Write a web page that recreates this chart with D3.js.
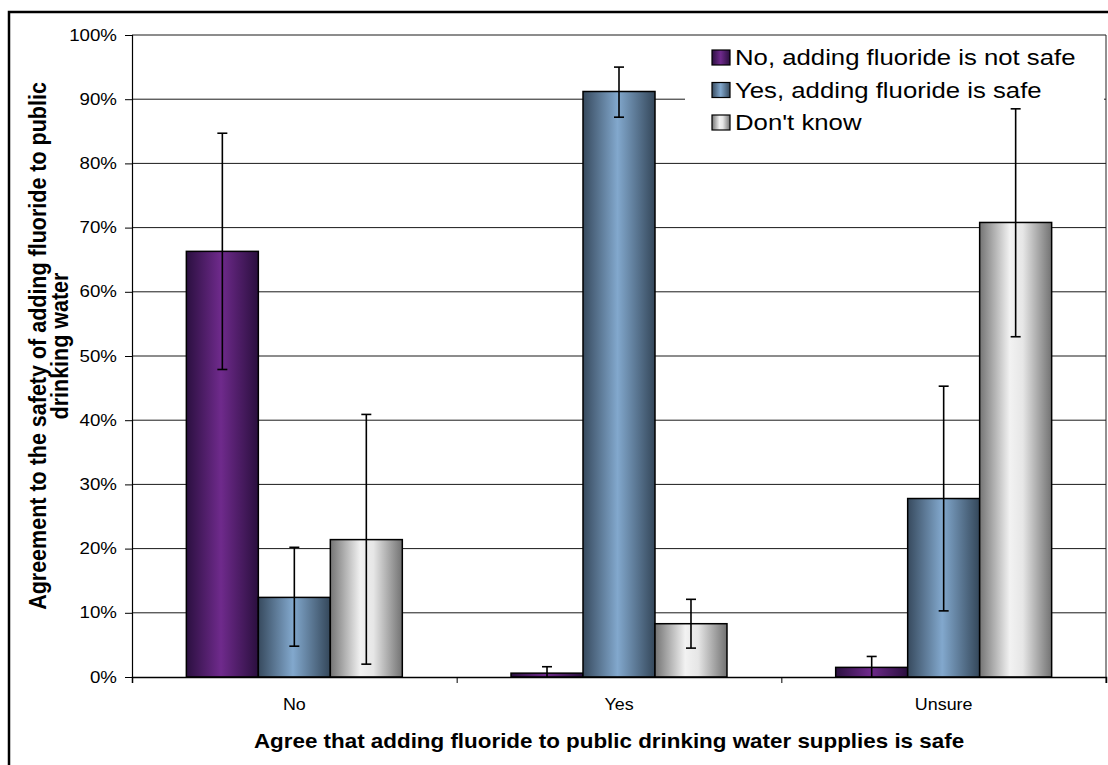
<!DOCTYPE html>
<html>
<head>
<meta charset="utf-8">
<script src="https://cdn.jsdelivr.net/npm/d3@7"></script>
<style>
  body { margin: 0; background: #fff; }
  text { font-family: Arial, "Liberation Sans", sans-serif; fill: #000; }
</style>
</head>
<body>
<div id="chart"></div>
<script>
// data (percent)
var categories = ["No", "Yes", "Unsure"];
var seriesNames = ["No, adding fluoride is not safe", "Yes, adding fluoride is safe", "Don't know"];
var notSafe = [66.3, 0.6, 1.5];
var safe = [12.4, 91.2, 27.8];
var dontKnow = [21.4, 8.3, 70.8];
var notSafeLow = [47.9, 0, 0];
var notSafeHigh = [84.7, 1.6, 3.2];
var safeLow = [4.8, 87.2, 10.3];
var safeHigh = [20.2, 95.0, 45.3];
var dontKnowLow = [2.0, 4.5, 53.0];
var dontKnowHigh = [40.9, 12.1, 88.5];
var yTicks = [0, 10, 20, 30, 40, 50, 60, 70, 80, 90, 100];

var width = 1108, height = 765;
var margin = {left: 132, top: 35, right: 2, bottom: 88};

var svg = d3.select("#chart").append("svg")
  .attr("width", width)
  .attr("height", height);

var defs = svg.append("defs");
var grads = [
  {id: "g0", stops: [["0%", "#2b1040"], ["48%", "#6f2a8c"], ["100%", "#2a0f3e"]]},
  {id: "g1", stops: [["0%", "#374a5e"], ["48%", "#82a8cd"], ["100%", "#34475a"]]},
  {id: "g2", stops: [["0%", "#747474"], ["42%", "#f2f2f2"], ["60%", "#e6e6e6"], ["100%", "#727272"]]}
];
grads.forEach(function (g) {
  var lg = defs.append("linearGradient").attr("id", g.id)
    .attr("x1", "0").attr("x2", "1").attr("y1", "0").attr("y2", "0");
  g.stops.forEach(function (s) {
    lg.append("stop").attr("offset", s[0]).attr("stop-color", s[1]);
  });
});

// outer chart border
svg.append("rect")
  .attr("x", 9).attr("y", 12)
  .attr("width", width + 10).attr("height", height + 10)
  .attr("fill", "none").attr("stroke", "#000").attr("stroke-width", 2.5);

var x = d3.scaleBand()
  .domain(categories)
  .range([margin.left, width - margin.right]);

var xs = d3.scaleBand()
  .domain(seriesNames)
  .range([0, x.bandwidth()])
  .paddingOuter(0.755);

var y = d3.scaleLinear()
  .domain([0, 100])
  .range([height - margin.bottom, margin.top]);

var rows = categories.map(function (c, i) {
  return [
    {cat: c, s: 0, v: notSafe[i], lo: notSafeLow[i], hi: notSafeHigh[i]},
    {cat: c, s: 1, v: safe[i], lo: safeLow[i], hi: safeHigh[i]},
    {cat: c, s: 2, v: dontKnow[i], lo: dontKnowLow[i], hi: dontKnowHigh[i]}
  ];
});
var flat = [].concat.apply([], rows);

// gridlines
svg.append("g").selectAll("line")
  .data(yTicks.slice(1))
  .enter().append("line")
  .attr("x1", margin.left).attr("x2", width - margin.right)
  .attr("y1", function (d) { return y(d); })
  .attr("y2", function (d) { return y(d); })
  .attr("stroke", "#1a1a1a").attr("stroke-width", 1);

// right edge of plot area
svg.append("line")
  .attr("x1", width - margin.right).attr("x2", width - margin.right)
  .attr("y1", y(100)).attr("y2", y(0) + 6)
  .attr("stroke", "#222");

// legend background (hides gridline under it)
var legend = svg.append("g").attr("transform", "translate(685,37)");
legend.append("rect")
  .attr("x", 0).attr("y", 0).attr("width", 419).attr("height", 108)
  .attr("fill", "#fff");

// bars
svg.append("g").selectAll("rect")
  .data(flat)
  .enter().append("rect")
  .attr("x", function (d) { return x(d.cat) + xs(seriesNames[d.s]); })
  .attr("y", function (d) { return y(d.v); })
  .attr("width", xs.bandwidth())
  .attr("height", function (d) { return y(0) - y(d.v); })
  .attr("fill", function (d) { return "url(#g" + d.s + ")"; })
  .attr("stroke", "#000").attr("stroke-width", 1.5);

// axes
var yAxis = d3.axisLeft(y)
  .tickValues(yTicks)
  .tickSize(7)
  .tickFormat(function (d) { return d + "%"; });
var gy = svg.append("g")
  .attr("transform", "translate(" + margin.left + ",0)")
  .call(yAxis);
gy.select(".domain").attr("stroke", "#000").attr("stroke-width", 1.2);
gy.selectAll(".tick line").attr("stroke", "#000");
gy.selectAll(".tick text")
  .attr("font-size", 16)
  .attr("x", null)
  .attr("text-anchor", "end")
  .attr("transform", "translate(-15,0) scale(1.17,1)");

var xAxis = d3.axisBottom(d3.scaleLinear().domain([0, 3]).range([margin.left, width - margin.right]))
  .tickValues([0, 1, 2, 3])
  .tickSize(6)
  .tickFormat("");
var gx = svg.append("g")
  .attr("transform", "translate(0," + y(0) + ")")
  .call(xAxis);
gx.select(".domain").attr("stroke", "#000").attr("stroke-width", 1.5);
gx.selectAll(".tick line").attr("stroke", "#000");

// category labels
svg.append("g").selectAll("text")
  .data(categories)
  .enter().append("text")
  .attr("transform", function (d) {
    return "translate(" + (x(d) + x.bandwidth() / 2) + "," + (y(0) + 33) + ") scale(1.12,1)";
  })
  .attr("text-anchor", "middle")
  .attr("font-size", 16)
  .text(function (d) { return d; });

// error bars
var eb = svg.append("g").attr("stroke", "#000").attr("stroke-width", 1.6);
flat.forEach(function (d) {
  var cx = x(d.cat) + xs(seriesNames[d.s]) + xs.bandwidth() / 2;
  eb.append("line").attr("x1", cx).attr("x2", cx).attr("y1", y(d.lo)).attr("y2", y(d.hi));
  eb.append("line").attr("x1", cx - 5).attr("x2", cx + 5).attr("y1", y(d.hi)).attr("y2", y(d.hi));
  if (d.lo > 0) {
    eb.append("line").attr("x1", cx - 5).attr("x2", cx + 5).attr("y1", y(d.lo)).attr("y2", y(d.lo));
  }
});

// legend items
var li = legend.selectAll(".item")
  .data(seriesNames)
  .enter().append("g")
  .attr("class", "item")
  .attr("transform", function (d, i) { return "translate(0," + (i * 32.5) + ")"; });
li.append("rect")
  .attr("x", 27).attr("y", 13)
  .attr("width", 18).attr("height", 15)
  .attr("fill", function (d, i) { return "url(#g" + i + ")"; })
  .attr("stroke", "#000").attr("stroke-width", 1.2);
li.append("text")
  .attr("transform", "translate(50,28) scale(1.17,1)")
  .attr("font-size", 22)
  .text(function (d) { return d; });

// axis titles
svg.append("text")
  .attr("transform", "translate(609,748) scale(1.12,1)")
  .attr("text-anchor", "middle")
  .attr("font-size", 20)
  .attr("font-weight", "bold")
  .text("Agree that adding fluoride to public drinking water supplies is safe");

var yt = svg.append("text")
  .attr("transform", "translate(0," + ((y(0) + y(100)) / 2 - 10) + ") rotate(-90) scale(1,1.15)")
  .attr("text-anchor", "middle")
  .attr("font-size", 21.5)
  .attr("font-weight", "bold");
yt.append("tspan").attr("x", 0).attr("y", 40).text("Agreement to the safety of adding fluoride to public");
yt.append("tspan").attr("x", 0).attr("y", 59.5).text("drinking water");
</script>
</body>
</html>
